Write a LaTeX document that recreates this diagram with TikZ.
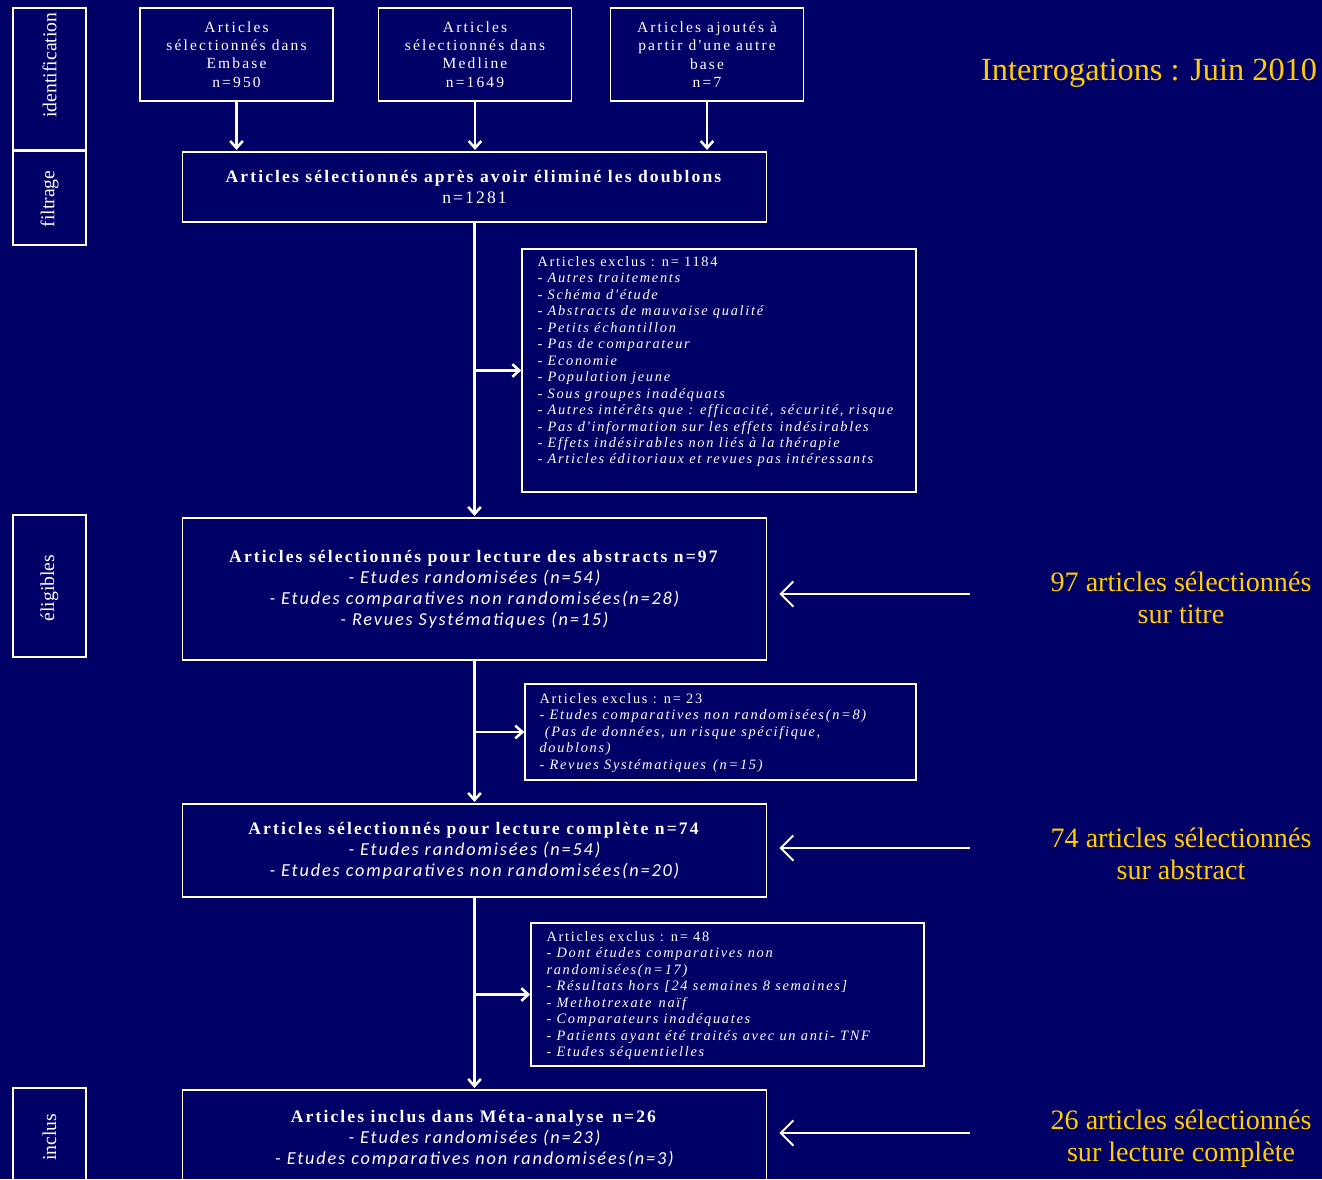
\documentclass[tikz,border=0pt]{standalone}
\usepackage{fontspec}
\setmainfont{Liberation Serif}
\newfontfamily\spacedfont[LetterSpace=12]{Liberation Serif}
\newfontfamily\widefont[LetterSpace=14]{Liberation Serif}
\newfontfamily\itemfont[LetterSpace=10]{Carlito}
\usetikzlibrary{arrows.meta,positioning}
\definecolor{prnavy}{RGB}{0,0,102}
\definecolor{pryellow}{RGB}{255,204,0}
\newcommand{\ex}[1]{\textit{- #1}}
\newcommand{\stud}[1]{{\itemfont\itshape\fontsize{13}{15}\selectfont #1}}

\begin{document}
\begin{tikzpicture}[x=0.025cm, y=-0.025cm,
  box/.style={draw=white, line width=1pt, text=white, align=center, inner sep=0pt},
  sidebox/.style={draw=white, line width=1pt},
  sidetext/.style={text=white, rotate=90, font=\fontsize{14}{16}\selectfont},
  srcbox/.style={box, minimum width=4.825cm, minimum height=2.325cm, font=\widefont\fontsize{11}{13}\selectfont},
  mainbox/.style={box, minimum width=14.6cm, font=\spacedfont\fontsize{12.5}{15}\selectfont},
  exclbox/.style={draw=white, line width=1pt, inner sep=0pt},
  excltext/.style={text=white, align=left, anchor=north west, inner sep=0pt, font=\spacedfont\fontsize{10.2}{11.7}\selectfont},
  flow/.style={draw=white, line width=1.8pt, -{Straight Barb[length=5pt,width=9pt]}},
  back/.style={draw=white, line width=1.4pt, -{Straight Barb[length=9pt,width=18pt]}},
  note/.style={text=pryellow, align=center, font=\fontsize{20}{23}\selectfont}
]
\useasboundingbox (0,0) rectangle (1322,1179);
\fill[prnavy] (0,0) rectangle (1322,1179);

% Stages
\foreach \nm/\ya/\yb/\yt/\txt in {ident/8/150/65/identification, filt/151/245/199/filtrage,
    elig/515/657/588/éligibles, incl/1088/1190/1137/inclus} {
  \draw[sidebox] (13,\ya) rectangle (86,\yb);
  \node[sidetext] (\nm) at (49.5,\yt) {\txt};
}

% Sources
\node[srcbox] (embase) at (236.5,54.5) {Articles\\ sélectionnés dans\\ Embase\\ n=950};
\node[srcbox] (medline) at (475,54.5) {Articles\\ sélectionnés dans\\ Medline\\ n=1649};
\node[srcbox] (autre) at (707,54.5) {Articles ajoutés à\\ partir d'une autre\\ base\\ n=7};

% Main boxes
\node[mainbox, minimum height=1.75cm] (doublons) at (474.5,187)
  {\textbf{Articles sélectionnés après avoir éliminé les doublons}\\ n=1281};
\node[mainbox, minimum height=3.55cm] (abstracts) at (474.5,589)
  {\textbf{Articles sélectionnés pour lecture des abstracts n=97}\\
   \stud{- Etudes randomisées (n=54)}\\
   \stud{- Etudes comparatives non randomisées(n=28)}\\
   \stud{- Revues Systématiques (n=15)}};
\node[mainbox, minimum height=2.325cm] (complete) at (474.5,850.5)
  {\textbf{Articles sélectionnés pour lecture complète n=74}\\
   \stud{- Etudes randomisées (n=54)}\\
   \stud{- Etudes comparatives non randomisées(n=20)}};
\node[mainbox, minimum height=2.425cm] (inclus) at (474.5,1138.5)
  {\textbf{Articles inclus dans Méta-analyse\enspace n=26}\\
   \stud{- Etudes randomisées (n=23)}\\
   \stud{- Etudes comparatives non randomisées(n=3)}};

% Exclusions
\node[exclbox, minimum width=9.85cm, minimum height=6.075cm] (excl1) at (719,370.5) {};
\node[excltext] (excl1txt) at ([shift={(16,8)}]excl1.north west)
  {Articles exclus : n= 1184\\ \ex{Autres traitements}\\ \ex{Schéma d'étude}\\
   \ex{Abstracts de mauvaise qualité}\\ \ex{Petits échantillon}\\ \ex{Pas de comparateur}\\
   \ex{Economie}\\ \ex{Population jeune}\\ \ex{Sous groupes inadéquats}\\
   \ex{Autres intérêts que : efficacité,\enspace sécurité, risque}\\
   \ex{Pas d'information sur les effets\enspace indésirables}\\
   \ex{Effets indésirables non liés à la thérapie}\\
   \ex{Articles éditoriaux et revues pas intéressants}};
\node[exclbox, minimum width=9.775cm, minimum height=2.4cm] (excl2) at (720.5,732) {};
\node[excltext] (excl2txt) at ([shift={(15,10)}]excl2.north west)
  {Articles exclus : n= 23\\ \ex{Etudes comparatives non randomisées(n=8)}\\
   \textit{\ (Pas de données, un risque spécifique,}\\ \textit{doublons)}\\
   \ex{Revues Systématiques\enspace (n=15)}};
\node[exclbox, minimum width=9.825cm, minimum height=3.575cm] (excl3) at (727.5,994.5) {};
\node[excltext] (excl3txt) at ([shift={(16,9)}]excl3.north west)
  {Articles exclus : n= 48\\ \ex{Dont études comparatives non}\\ \textit{randomisées(n=17)}\\
   \ex{Résultats hors [24 semaines 8 semaines]}\\ \ex{Methotrexate\enspace naïf}\\
   \ex{Comparateurs inadéquates}\\ \ex{Patients ayant été traités avec un anti- TNF}\\
   \ex{Etudes séquentielles}};

% Flow
\foreach \src in {embase,medline,autre}
  \draw[flow, shorten >=1pt] (\src.south) -- (\src.south |- doublons.north);
\draw[flow, shorten >=1pt] (doublons.south) -- (abstracts.north);
\draw[flow, shorten >=1pt] (abstracts.south) -- (complete.north);
\draw[flow, shorten >=1pt] (complete.south) -- (inclus.north);
\draw[flow] (doublons.south |- excl1.west) -- (excl1.west);
\draw[flow] (doublons.south |- excl2.west) -- (excl2.west);
\draw[flow] (doublons.south |- excl3.west) -- (excl3.west);

% Notes
\node[note, anchor=east, font=\fontsize{23}{26}\selectfont] (date) at (1322,73) {Interrogations : Juin 2010};
\node[note] (n97) at (1181,598) {97 articles sélectionnés\\ sur titre};
\node[note] (n74) at (1181,854) {74 articles sélectionnés\\ sur abstract};
\node[note] (n26) at (1181,1139) {26 articles sélectionnés\\ sur lecture complète};
\coordinate (r97) at (970,594);
\coordinate (r74) at (970,848);
\coordinate (r26) at (970,1133);
\draw[back, shorten >=0.3cm] (r97) -- (r97 -| abstracts.east);
\draw[back, shorten >=0.3cm] (r74) -- (r74 -| complete.east);
\draw[back, shorten >=0.3cm] (r26) -- (r26 -| inclus.east);
\end{tikzpicture}
\end{document}
